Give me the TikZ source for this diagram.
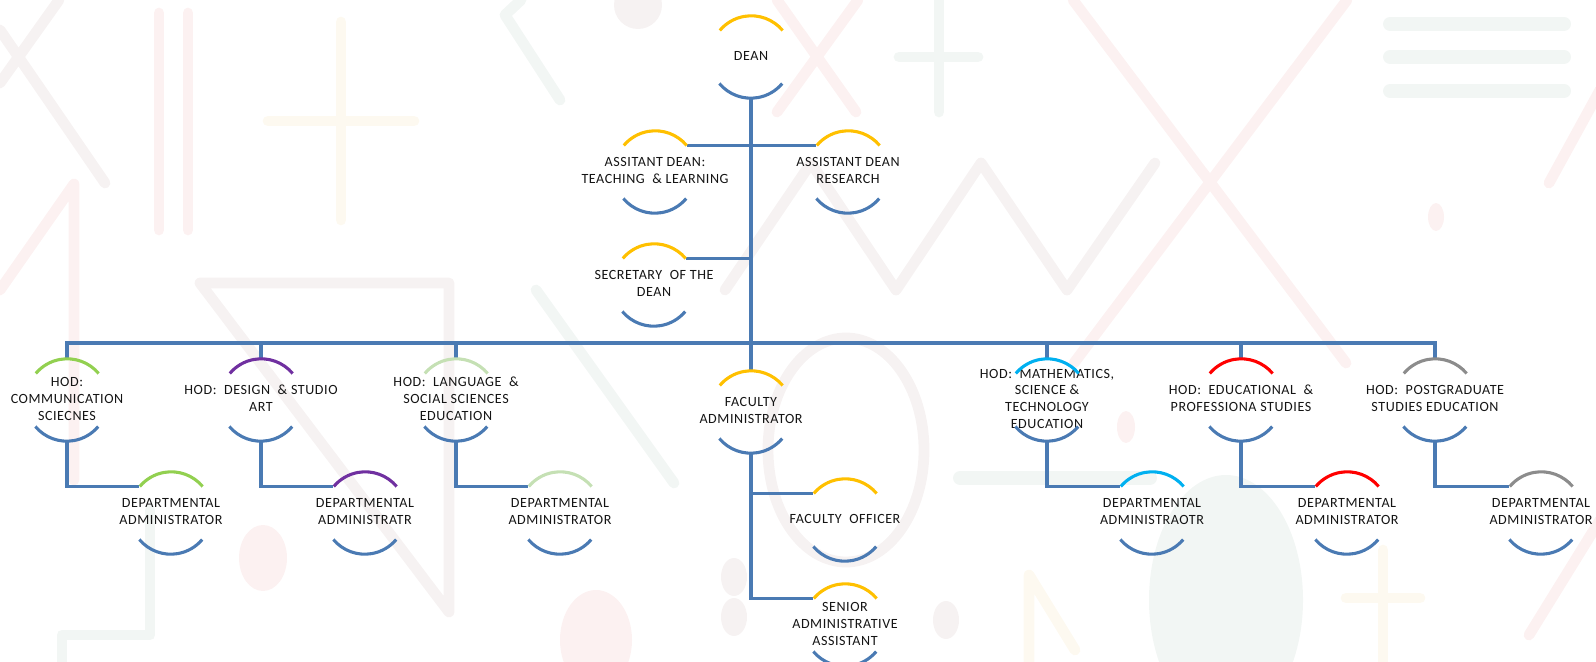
\documentclass[tikz,border=0pt]{standalone}
\usepackage{fontspec}
\setmainfont{Carlito}[LetterSpace=4]

\definecolor{lineblue}{HTML}{4A7AB3}
\definecolor{gold}{HTML}{FFC000}
\definecolor{hgreen}{HTML}{92D050}
\definecolor{hpurple}{HTML}{7030A0}
\definecolor{hpale}{HTML}{C5E0B4}
\definecolor{hcyan}{HTML}{00B0F0}
\definecolor{hred}{HTML}{FF0000}
\definecolor{hgray}{HTML}{8C8C8C}
\definecolor{textgray}{HTML}{141414}
\definecolor{bgpink}{HTML}{FCF1F1}
\definecolor{bggray}{HTML}{F6F2F2}
\definecolor{bgcream}{HTML}{FDF9F0}
\definecolor{bgteal}{HTML}{F2F6F4}

\newcommand\posttext[1]{\makebox[0pt]{\begin{tabular}{@{}c@{}}#1\end{tabular}}}

\tikzset{ unit_style/.style = { circle % post
, minimum size = 2.05cm
, inner sep = 0pt
, text = textgray
, font = \fontsize{10}{12}\selectfont
}
, bg/.style = { line width = 0.27cm % background stroke
, line cap = round
, line join = round
}
}

\begin{document}
\begin{tikzpicture}[x=0.025cm, y=-0.025cm,
        edge_style/.style={draw=lineblue, line width=2.4pt},
        trunk_style/.style={draw=lineblue, line width=3.4pt},
        arc_style/.style={line width=2.2pt}]

        \useasboundingbox (0,0) rectangle (1596,662);
        \clip (0,0) rectangle (1596,662);

        % background
        \draw [bg, draw=bggray] (0,30) -- (105,183) (59,0) -- (0,83);
        \draw [bg, draw=bgpink] (159,13) -- (159,230) (188,13) -- (188,230);
        \draw [bg, draw=bgcream] (341,22) -- (341,220) (268,121) -- (414,121);
        \draw [bg, draw=bgpink] (0,290) -- (74,184) -- (74,480);
        \draw [bg, draw=bgteal] (560,100) -- (505,15) -- (521,0);
        \draw [bg, draw=bggray] (200,283) -- (449,283) -- (449,612) -- cycle;
        \draw [bg, draw=bgteal] (536,290) -- (674,483);
        \fill [bggray] (638,5) circle [radius=24];
        \draw [bg, draw=bgpink] (777,0) -- (856,112) (858,0) -- (777,112);
        \draw [bg, draw=bgteal] (939,0) -- (939,112) (899,57) -- (978,57);
        \draw [bg, draw=bgpink] (1073,0) -- (1346,363) (1347,0) -- (1074,363);
        \draw [bg, draw=bggray] (725,290) -- (811,163) -- (896,290) -- (981,163) -- (1067,290) -- (1155,163);
        \draw [bg, draw=bgteal, line width=0.35cm] (1390,24) -- (1564,24) (1390,57) -- (1564,57) (1390,91) -- (1564,91);
        \fill [bgpink] (1436,217) ellipse [x radius=8, y radius=14];
        \draw [bg, draw=bgpink] (1549,183) -- (1600,90);
        \draw [bg, draw=bggray] (846,450) ellipse [x radius=78, y radius=112];
        \fill [bggray] (734,577) ellipse [x radius=13, y radius=19];
        \fill [bggray] (734,617) ellipse [x radius=13, y radius=19];
        \fill [bggray] (946,620) ellipse [x radius=13, y radius=19];
        \fill [bgteal] (1226,600) ellipse [x radius=77, y radius=125];
        \draw [bg, draw=bgteal, line width=0.35cm] (960,478) -- (1150,478);
        \draw [bg, draw=bgcream] (1383,550) -- (1383,670) (1346,598) -- (1420,598);
        \draw [bg, draw=bgcream] (1029,670) -- (1029,575) -- (1075,650);
        \fill [bgpink] (1126,427) ellipse [x radius=9, y radius=16];
        \fill [bgpink] (263,558) ellipse [x radius=24, y radius=33];
        \fill [bgpink] (596,640) ellipse [x radius=36, y radius=50];
        \draw [bg, draw=bgteal] (62,670) -- (62,635) -- (150,635) -- (150,510);
        \draw [bg, draw=bgpink] (1529,635) -- (1600,520);

        % posts
        \node [unit_style](dean) at (751,57) {\posttext{DEAN}};
        \node [unit_style](tl) at (655,172) {\posttext{ASSITANT DEAN:\\TEACHING~ \& LEARNING}};
        \node [unit_style](res) at (848,172) {\posttext{ASSISTANT DEAN\\RESEARCH}};
        \node [unit_style](sec) at (654,285) {\posttext{SECRETARY~ OF THE\\DEAN}};
        \node [unit_style](comm) at (67,400) {\posttext{HOD:\\COMMUNICATION\\SCIECNES}};
        \node [unit_style](design) at (261,400) {\posttext{HOD:~ DESIGN~ \& STUDIO\\ART}};
        \node [unit_style](lang) at (456,400) {\posttext{HOD:~ LANGUAGE~ \&\\SOCIAL SCIENCES\\EDUCATION}};
        \node [unit_style](fa) at (751,412) {\posttext{FACULTY\\ADMINISTRATOR}};
        \node [unit_style](math) at (1047,400) {\posttext{HOD:~ MATHEMATICS,\\SCIENCE \&\\TECHNOLOGY\\EDUCATION}};
        \node [unit_style](edu) at (1241,400) {\posttext{HOD:~ EDUCATIONAL~ \&\\PROFESSIONA STUDIES}};
        \node [unit_style](pg) at (1435,400) {\posttext{HOD:~ POSTGRADUATE\\STUDIES EDUCATION}};
        \node [unit_style](da1) at (171,513) {\posttext{DEPARTMENTAL\\ADMINISTRATOR}};
        \node [unit_style](da2) at (365,513) {\posttext{DEPARTMENTAL\\ADMINISTRATR}};
        \node [unit_style](da3) at (560,513) {\posttext{DEPARTMENTAL\\ADMINISTRATOR}};
        \node [unit_style](fo) at (845,520) {\posttext{FACULTY~ OFFICER}};
        \node [unit_style](sa) at (845,625) {\posttext{SENIOR\\ADMINISTRATIVE\\ASSISTANT}};
        \node [unit_style](da4) at (1152,513) {\posttext{DEPARTMENTAL\\ADMINISTRAOTR}};
        \node [unit_style](da5) at (1347,513) {\posttext{DEPARTMENTAL\\ADMINISTRATOR}};
        \node [unit_style](da6) at (1541,513) {\posttext{DEPARTMENTAL\\ADMINISTRATOR}};

        % connectors
        \coordinate (bus) at (751,343);
        \draw [trunk_style] (dean.south) -- (bus);
        \draw [edge_style] (tl.40) -- (res.140);
        \draw [edge_style] (sec.40) -- (sec.40 -| dean.south);
        \draw [edge_style] (comm.north) |- (bus) -| (pg.north);
        \draw [edge_style] (design.north) -- (design.north |- bus);
        \draw [edge_style] (lang.north) -- (lang.north |- bus);
        \draw [edge_style] (fa.north) -- (fa.north |- bus);
        \draw [edge_style] (math.north) -- (math.north |- bus);
        \draw [edge_style] (edu.north) -- (edu.north |- bus);
        \draw [edge_style] (comm.south) |- (da1.140);
        \draw [edge_style] (design.south) |- (da2.140);
        \draw [edge_style] (lang.south) |- (da3.140);
        \draw [edge_style] (fa.south) |- (fo.140);
        \draw [edge_style] (fa.south) |- (sa.140);
        \draw [edge_style] (math.south) |- (da4.140);
        \draw [edge_style] (edu.south) |- (da5.140);
        \draw [edge_style] (pg.south) |- (da6.140);

        % arcs of each post
        \foreach \n/\c in {dean/gold, tl/gold, res/gold, sec/gold, fa/gold, fo/gold, sa/gold,
                comm/hgreen, da1/hgreen, design/hpurple, da2/hpurple, lang/hpale, da3/hpale,
                math/hcyan, da4/hcyan, edu/hred, da5/hred, pg/hgray, da6/hgray}{
            \draw [arc_style, draw=\c] (\n.40) arc [start angle=40, end angle=140, radius=1.025cm];
            \draw [arc_style, draw=lineblue] (\n.220) arc [start angle=220, end angle=320, radius=1.025cm];
        }

\end{tikzpicture}
\end{document}
